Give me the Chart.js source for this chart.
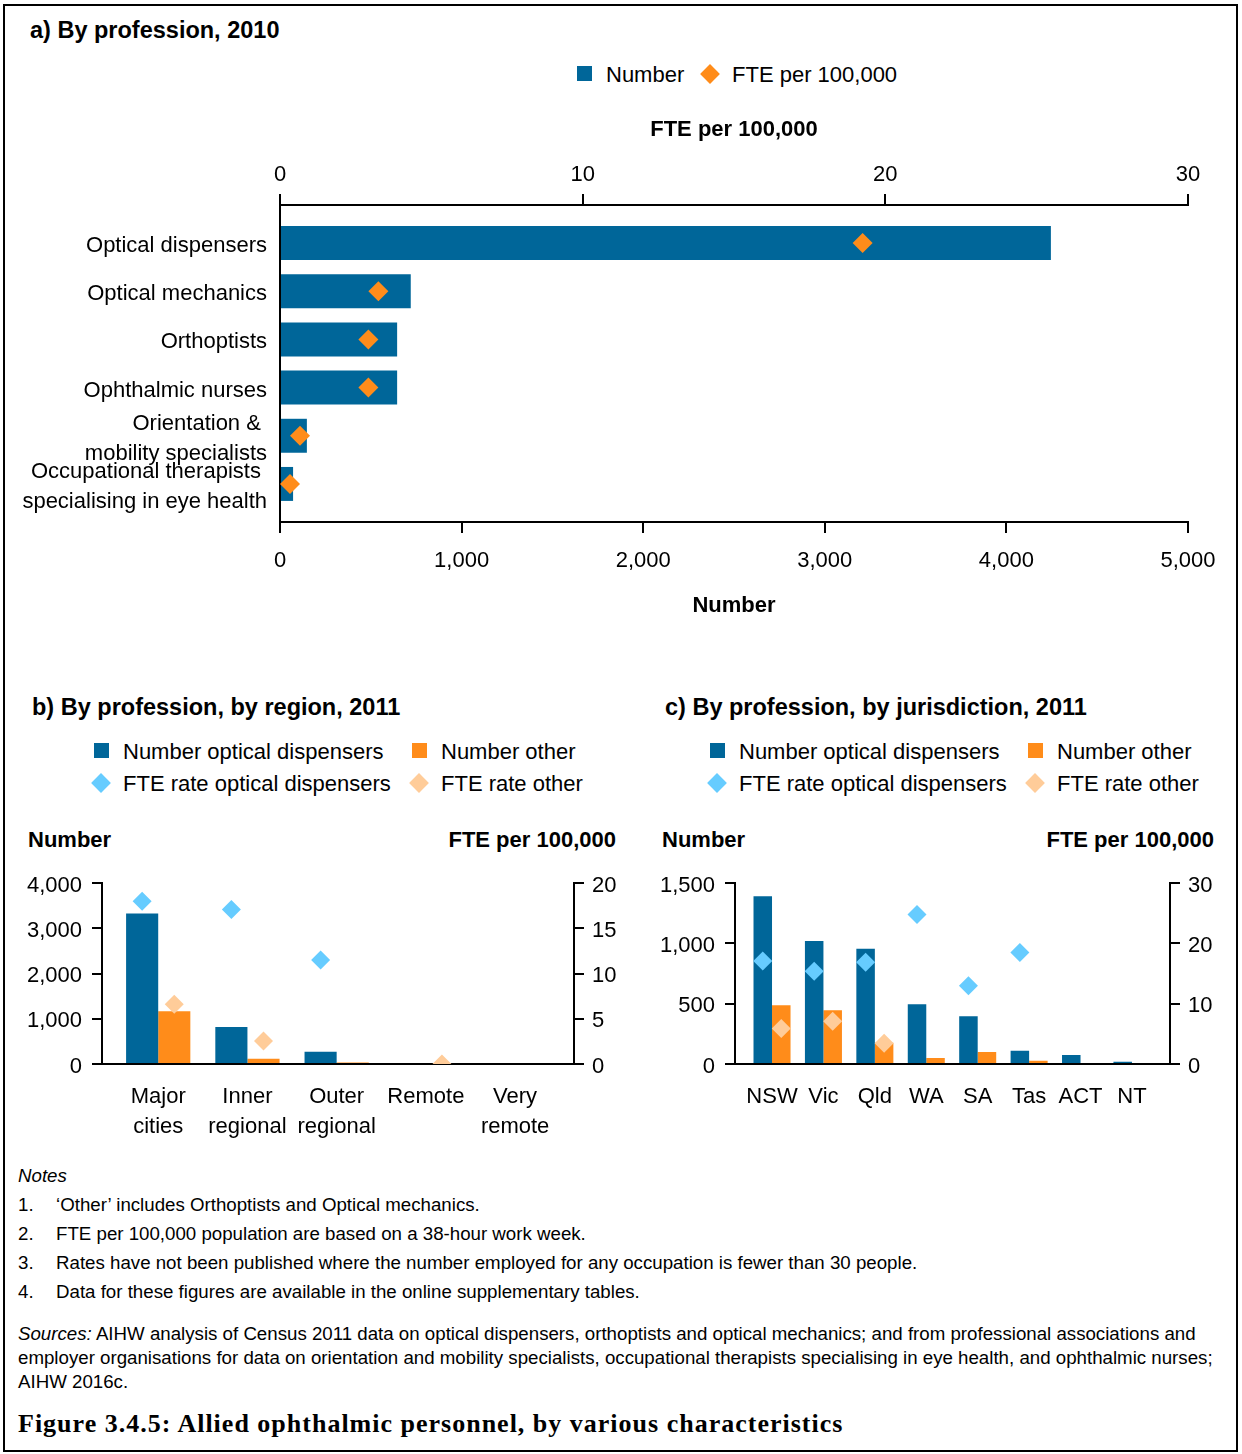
<!DOCTYPE html>
<html>
<head>
<meta charset="utf-8">
<script src="https://cdn.jsdelivr.net/npm/chart.js@4"></script>
<style>
body { margin:0; background:#fff; font-family:"Liberation Sans", Arial, sans-serif; color:#000 }
#fig { position:relative; width:1242px; height:1454px; overflow:hidden; background:#fff }
#frame { position:absolute; left:3px; top:4px; width:1231px; height:1444px; border:2px solid #000 }
.abs { position:absolute; white-space:nowrap }
.ttl { font-weight:bold; font-size:23.5px; line-height:26px }
.leg { font-size:22px; line-height:26px }
.axt { font-weight:bold; font-size:22px; line-height:26px }
.sq { position:absolute; width:15px; height:15px }
.dm { position:absolute; width:14px; height:14px; transform:rotate(45deg) }
.note { font-size:18.7px; line-height:22px }
.cap { font-family:"Liberation Serif", "Times New Roman", serif; font-weight:bold; font-size:26px; line-height:30px; letter-spacing:1px }
canvas { position:absolute }
</style>
</head>
<body>
<div id="fig">
  <div id="frame"></div>

  <!-- a) -->
  <div class="abs ttl" style="left:30px; top:17px">a) By profession, 2010</div>
  <div class="sq" style="left:577px; top:66px; background:#006699"></div>
  <div class="abs leg" style="left:606px; top:62px">Number</div>
  <div class="dm" style="left:703px; top:67px; background:#FF8C1A"></div>
  <div class="abs leg" style="left:732px; top:62px">FTE per 100,000</div>
  <canvas id="chartA" width="1242" height="530" style="left:0; top:100px"></canvas>

  <!-- b) -->
  <div class="abs ttl" style="left:32px; top:694px">b) By profession, by region, 2011</div>
  <div class="sq" style="left:94px; top:743px; background:#006699"></div>
  <div class="abs leg" style="left:123px; top:739px">Number optical dispensers</div>
  <div class="sq" style="left:412px; top:743px; background:#FF8C1A"></div>
  <div class="abs leg" style="left:441px; top:739px">Number other</div>
  <div class="dm" style="left:94px; top:776px; background:#66CCFF"></div>
  <div class="abs leg" style="left:123px; top:771px">FTE rate optical dispensers</div>
  <div class="dm" style="left:412px; top:776px; background:#FFCC99"></div>
  <div class="abs leg" style="left:441px; top:771px">FTE rate other</div>
  <div class="abs axt" style="left:28px; top:827px">Number</div>
  <div class="abs axt" style="right:626px; top:827px">FTE per 100,000</div>
  <canvas id="chartB" width="620" height="290" style="left:10px; top:860px"></canvas>

  <!-- c) -->
  <div class="abs ttl" style="left:665px; top:694px">c) By profession, by jurisdiction, 2011</div>
  <div class="sq" style="left:710px; top:743px; background:#006699"></div>
  <div class="abs leg" style="left:739px; top:739px">Number optical dispensers</div>
  <div class="sq" style="left:1028px; top:743px; background:#FF8C1A"></div>
  <div class="abs leg" style="left:1057px; top:739px">Number other</div>
  <div class="dm" style="left:710px; top:776px; background:#66CCFF"></div>
  <div class="abs leg" style="left:739px; top:771px">FTE rate optical dispensers</div>
  <div class="dm" style="left:1028px; top:776px; background:#FFCC99"></div>
  <div class="abs leg" style="left:1057px; top:771px">FTE rate other</div>
  <div class="abs axt" style="left:662px; top:827px">Number</div>
  <div class="abs axt" style="right:28px; top:827px">FTE per 100,000</div>
  <canvas id="chartC" width="600" height="290" style="left:640px; top:860px"></canvas>

  <!-- notes -->
  <div class="abs note" style="left:18px; top:1165px"><i>Notes</i></div>
  <div class="abs note" style="left:18px; top:1194px">1.</div>
  <div class="abs note" style="left:56px; top:1194px">‘Other’ includes Orthoptists and Optical mechanics.</div>
  <div class="abs note" style="left:18px; top:1223px">2.</div>
  <div class="abs note" style="left:56px; top:1223px">FTE per 100,000 population are based on a 38-hour work week.</div>
  <div class="abs note" style="left:18px; top:1252px">3.</div>
  <div class="abs note" style="left:56px; top:1252px">Rates have not been published where the number employed for any occupation is fewer than 30 people.</div>
  <div class="abs note" style="left:18px; top:1281px">4.</div>
  <div class="abs note" style="left:56px; top:1281px">Data for these figures are available in the online supplementary tables.</div>
  <div class="abs note" style="left:18px; top:1323px"><i>Sources:</i> AIHW analysis of Census 2011 data on optical dispensers, orthoptists and optical mechanics; and from professional associations and</div>
  <div class="abs note" style="left:18px; top:1347px">employer organisations for data on orientation and mobility specialists, occupational therapists specialising in eye health, and ophthalmic nurses;</div>
  <div class="abs note" style="left:18px; top:1371px">AIHW 2016c.</div>
  <div class="abs cap" style="left:18px; top:1409px">Figure 3.4.5: Allied ophthalmic personnel, by various characteristics</div>
</div>

<script>
// ===== DATA =====
const professions = ["Optical dispensers", "Optical mechanics", "Orthoptists", "Ophthalmic nurses",
  ["Orientation & ", "mobility specialists"], ["Occupational therapists ", "specialising in eye health"]];
const profNumber = [4245, 720, 645, 645, 148, 72];
const profFte = [19.25, 3.25, 2.92, 2.92, 0.66, 0.33];

const regions = [["Major", "cities"], ["Inner", "regional"], ["Outer", "regional"], "Remote", ["Very", "remote"]];
const regionOptical = [3330, 817, 270, 0, 0];
const regionOther = [1167, 116, 35, 0, 0];
const regionOpticalFte = [18.0, 17.1, 11.5, null, null];
const regionOtherFte = [6.6, 2.55, null, 0, null];

const states = ["NSW", "Vic", "Qld", "WA", "SA", "Tas", "ACT", "NT"];
const stateOptical = [1391, 1021, 956, 495, 397, 109, 75, 19];
const stateOther = [487, 446, 176, 50, 100, 26, 9, 0];
const stateOpticalFte = [17.1, 15.4, 16.9, 24.8, 13.0, 18.5, null, null];
const stateOtherFte = [5.9, 7.1, 3.45, null, null, null, null, null];

// ===== STYLE =====
const NAVY = "#006699", ORANGE = "#FF8C1A", LIGHT_BLUE = "#66CCFF", PEACH = "#FFCC99";
const GROUP = 0.72; // share of a category taken by the pair of bars

Chart.defaults.font.family = '"Liberation Sans", Arial, sans-serif';
Chart.defaults.color = "#000";
Chart.defaults.animation = false;
Chart.defaults.plugins.legend.display = false;
Chart.defaults.plugins.tooltip.enabled = false;

const tickFont = { size: 22 };
const titleFont = { size: 22, weight: "bold" };
const axisGrid = { display: true, drawOnChartArea: false, drawTicks: true, tickLength: 11, color: "#000", lineWidth: 2 };
const noGrid = { display: false, drawTicks: false };
const border = { display: true, color: "#000", width: 2 };

function points(values, shift) {
  const out = [];
  values.forEach((v, i) => { if (v !== null) out.push({ x: i + shift, y: v }); });
  return out;
}

// ===== a) =====
new Chart(document.getElementById("chartA"), {
  type: "bar",
  data: {
    datasets: [
      { type: "scatter", label: "FTE per 100,000", order: 0, xAxisID: "x2", yAxisID: "y",
        data: profFte.map((v, i) => ({ x: v, y: i })),
        pointStyle: "rectRot", radius: 10, backgroundColor: ORANGE, borderWidth: 0 },
      { type: "bar", label: "Number", order: 1, xAxisID: "x", yAxisID: "y",
        data: profNumber.map((v, i) => ({ x: v, y: i })),
        backgroundColor: NAVY, categoryPercentage: 1, barPercentage: 0.705 }
    ]
  },
  options: {
    responsive: false,
    indexAxis: "y",
    layout: { padding: { left: 0, right: 54, top: 0, bottom: 0 } },
    scales: {
      y: { type: "linear", axis: "y", position: "left", reverse: true, offset: false, bounds: "data",
        min: -0.79, max: professions.length - 1 + 0.79,
        afterBuildTicks: s => { s.ticks = professions.map((_, i) => ({ value: i })); },
        afterFit: s => { s.width = 280; },
        ticks: { callback: v => professions[v], padding: 13, labelOffset: 3, autoSkip: false, font: { size: 22, lineHeight: "30px" } },
        grid: noGrid, border: border },
      x: { type: "linear", axis: "x", position: "bottom", offset: false, min: 0, max: 5000,
        afterFit: s => { s.height = 108; },
        ticks: { stepSize: 1000, padding: 14.5, font: tickFont, maxRotation: 0 },
        grid: axisGrid, border: border,
        title: { display: true, text: "Number", font: titleFont, padding: { top: 0, bottom: 11 } } },
      x2: { type: "linear", axis: "x", position: "top", offset: false, min: 0, max: 30,
        afterFit: s => { s.height = 105; },
        ticks: { stepSize: 10, padding: 6, font: tickFont, maxRotation: 0 },
        grid: axisGrid, border: border,
        title: { display: true, text: "FTE per 100,000", font: titleFont, padding: { top: 16.5, bottom: 0 } } }
    }
  }
});

// ===== b) and c) =====
function groupedChart(id, labels, optical, other, opticalFte, otherFte, cfg) {
  return new Chart(document.getElementById(id), {
    type: "bar",
    data: {
      datasets: [
        { type: "scatter", label: "FTE rate optical dispensers", order: 0, xAxisID: "x", yAxisID: "y2", clip: 0,
          data: points(opticalFte, -GROUP / 4), pointStyle: "rectRot", radius: 9.5, backgroundColor: LIGHT_BLUE, borderWidth: 0 },
        { type: "scatter", label: "FTE rate other", order: 0, xAxisID: "x", yAxisID: "y2", clip: 0,
          data: points(otherFte, GROUP / 4), pointStyle: "rectRot", radius: 9.5, backgroundColor: PEACH, borderWidth: 0 },
        { type: "bar", label: "Number optical dispensers", order: 1, xAxisID: "x", yAxisID: "y",
          data: points(optical, 0), backgroundColor: NAVY, categoryPercentage: GROUP, barPercentage: 1 },
        { type: "bar", label: "Number other", order: 1, xAxisID: "x", yAxisID: "y",
          data: points(other, 0), backgroundColor: ORANGE, categoryPercentage: GROUP, barPercentage: 1 }
      ]
    },
    options: {
      responsive: false,
      layout: { padding: { left: 0, right: 0, top: 22, bottom: 0 } },
      scales: {
        x: { type: "linear", axis: "x", position: "bottom", offset: false, bounds: "data",
          min: cfg.xMin, max: labels.length - 1 + cfg.xMax,
          afterBuildTicks: s => { s.ticks = labels.map((_, i) => ({ value: i })); },
          afterFit: s => { s.height = 86; },
          ticks: { callback: v => labels[v], padding: 18, autoSkip: false, maxRotation: 0, font: { size: 22, lineHeight: "30px" } },
          grid: noGrid, border: border },
        y: { type: "linear", axis: "y", position: "left", min: 0, max: cfg.yMax,
          afterFit: s => { s.width = cfg.leftW; },
          ticks: { stepSize: cfg.yStep, padding: 10, labelOffset: 2.5, font: tickFont },
          grid: Object.assign({}, axisGrid, { tickLength: 10 }), border: border },
        y2: { type: "linear", axis: "y", position: "right", min: 0, max: cfg.y2Max,
          afterFit: s => { s.width = cfg.rightW; },
          ticks: { stepSize: cfg.y2Step, padding: 8, labelOffset: 2.5, font: tickFont },
          grid: Object.assign({}, axisGrid, { tickLength: 10 }), border: border }
      }
    }
  });
}

groupedChart("chartB", regions, regionOptical, regionOther, regionOpticalFte, regionOtherFte,
  { xMin: -0.63, xMax: 0.66, yMax: 4000, yStep: 1000, y2Max: 20, y2Step: 5, leftW: 92, rightW: 56 });

groupedChart("chartC", states, stateOptical, stateOther, stateOpticalFte, stateOtherFte,
  { xMin: -0.72, xMax: 0.74, yMax: 1500, yStep: 500, y2Max: 30, y2Step: 10, leftW: 95, rightW: 70 });
</script>
</body>
</html>
